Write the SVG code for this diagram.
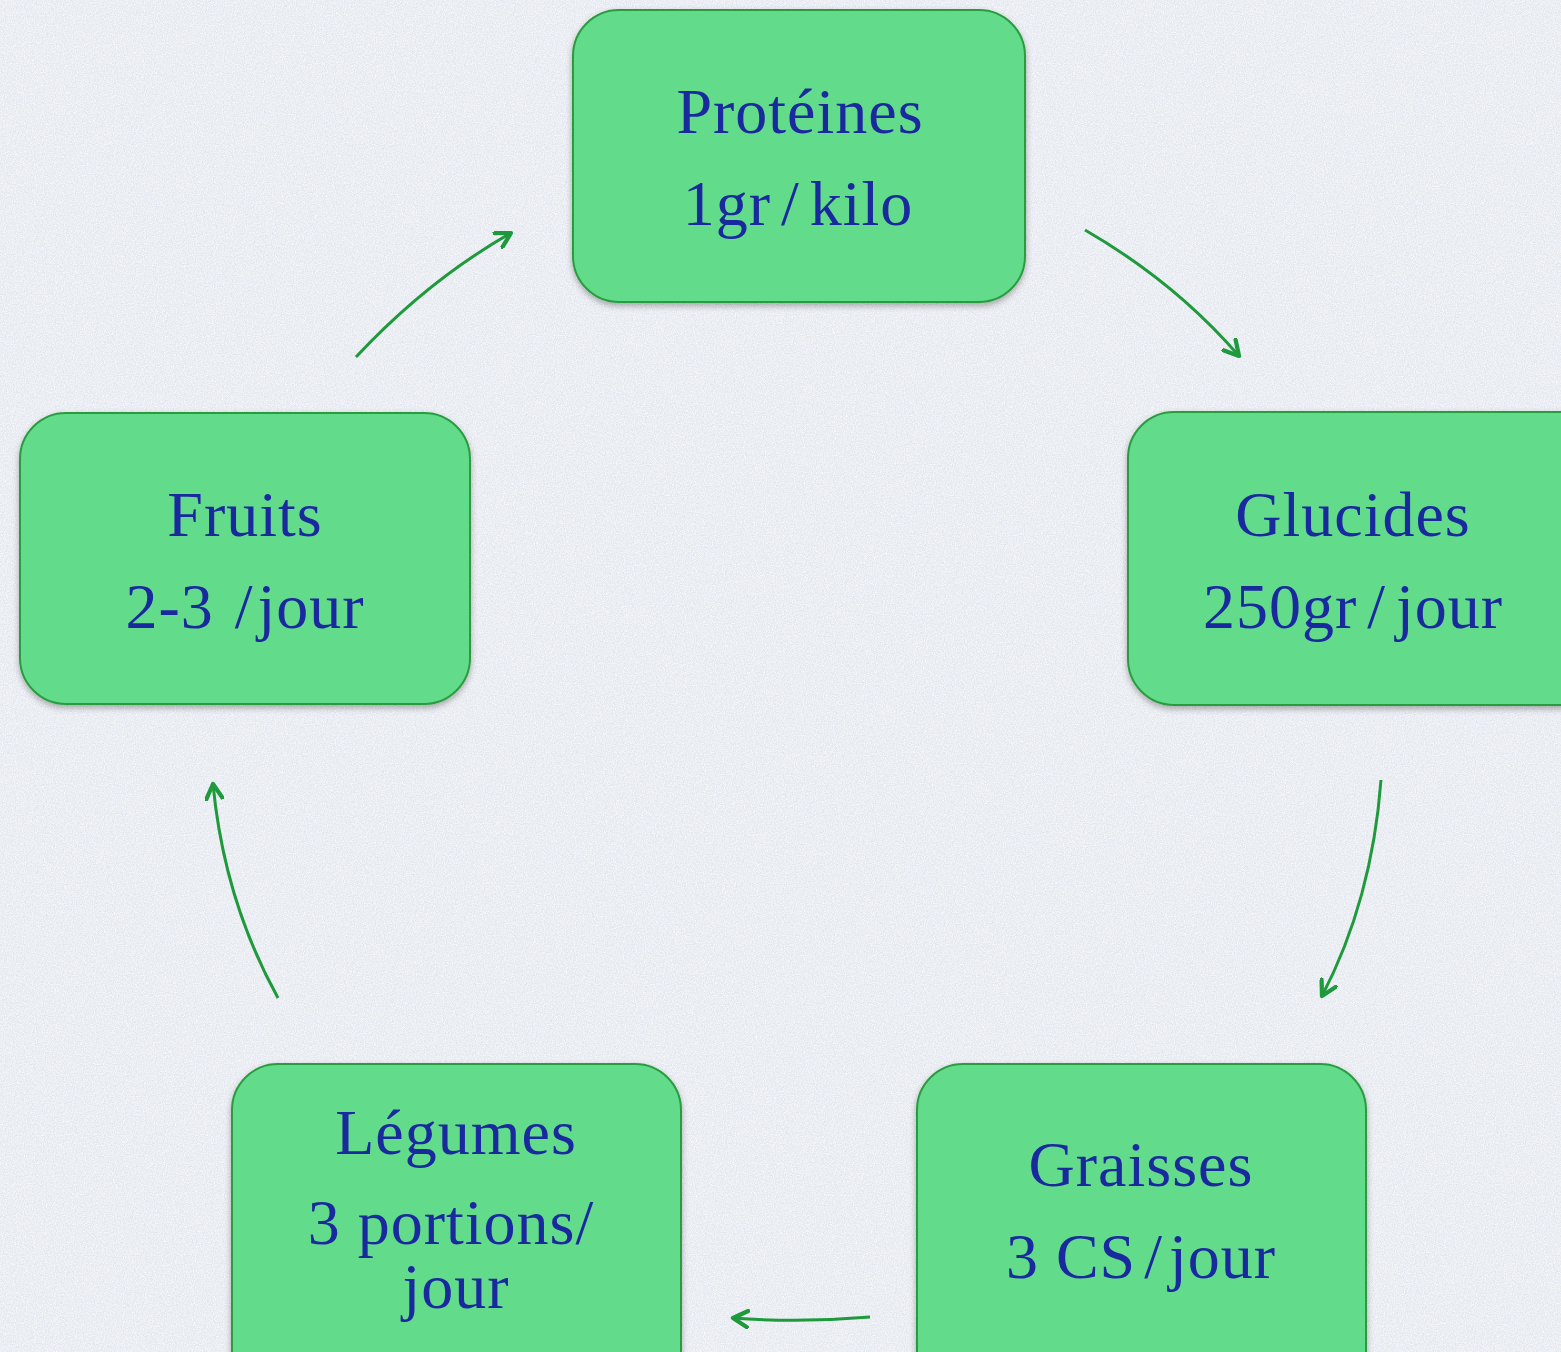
<svg xmlns="http://www.w3.org/2000/svg" width="1561" height="1352" viewBox="0 0 1561 1352">
<defs>
<filter id="paper" x="0" y="0" width="100%" height="100%">
<feTurbulence type="fractalNoise" baseFrequency="0.9" numOctaves="3" seed="4" result="n"/>
<feColorMatrix in="n" type="matrix" values="0 0 0 0 1  0 0 0 0 1  0 0 0 0 1  0 0 0 -1.4 1.0" result="w"/>
<feComposite in="w" in2="SourceGraphic" operator="in" result="wm"/>
<feMerge><feMergeNode in="SourceGraphic"/><feMergeNode in="wm"/></feMerge>
</filter>
<filter id="shadow" x="-10%" y="-10%" width="120%" height="125%">
<feDropShadow dx="0" dy="3" stdDeviation="3" flood-color="#000" flood-opacity="0.3"/>
</filter>
<marker id="arr" viewBox="0 0 12 12" refX="10" refY="6" markerWidth="6.5" markerHeight="6.5" markerUnits="strokeWidth" orient="auto">
<path d="M1,1 L10,6 L1,11" fill="none" stroke="#1e9a3c" stroke-width="2.6" stroke-linecap="round" stroke-linejoin="round"/>
</marker>
</defs>
<style>
.box{fill:#62db8a;stroke:#2a9c40;stroke-width:2;filter:url(#shadow)}
.t{font-family:"Liberation Serif","DejaVu Serif",serif;font-size:64px;fill:#1a2a9e;text-anchor:middle;letter-spacing:1px}
.c{fill:none;stroke:#1e9a3c;stroke-width:3;marker-end:url(#arr)}
</style>
<rect x="0" y="0" width="1561" height="1352" fill="#e2e6ee" filter="url(#paper)"/>
<g id="connectors">
<path class="c" d="M1085,230 Q1175,282 1239,356"/>
<path class="c" d="M1381,780 Q1372,900 1322,996"/>
<path class="c" d="M870,1317 Q800,1323 733,1318"/>
<path class="c" d="M278,998 Q224,900 213,784"/>
<path class="c" d="M356,357 Q428,280 511,233"/>
</g>
<g id="proteines">
<rect class="box" x="573" y="10" width="452" height="292" rx="46"/>
<text class="t" x="800" y="133">Protéines</text>
<text class="t" x="798" y="225">1gr<tspan dx="10">/</tspan><tspan dx="10">kilo</tspan></text>
</g>
<g id="glucides">
<rect class="box" x="1128" y="412" width="480" height="293" rx="46"/>
<text class="t" x="1353" y="536">Glucides</text>
<text class="t" x="1353" y="628">250gr<tspan dx="10">/</tspan><tspan dx="10">jour</tspan></text>
</g>
<g id="fruits">
<rect class="box" x="20" y="413" width="450" height="291" rx="46"/>
<text class="t" x="245" y="536">Fruits</text>
<text class="t" x="245" y="628">2-3 <tspan dx="4">/</tspan><tspan dx="4">jour</tspan></text>
</g>
<g id="legumes">
<rect class="box" x="232" y="1064" width="449" height="340" rx="46"/>
<text class="t" x="456" y="1154">Légumes</text>
<text class="t" x="451" y="1244">3 portions/</text>
<text class="t" x="456" y="1308">jour</text>
</g>
<g id="graisses">
<rect class="box" x="917" y="1064" width="449" height="340" rx="46"/>
<text class="t" x="1141" y="1186">Graisses</text>
<text class="t" x="1141" y="1278">3 CS<tspan dx="8">/</tspan><tspan dx="6">jour</tspan></text>
</g>
</svg>
